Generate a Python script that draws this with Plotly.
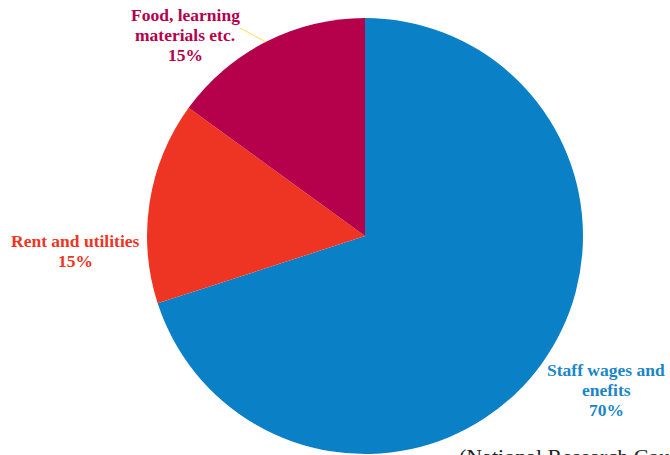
import plotly.graph_objects as go

W, H = 670, 455
label_lines = [["Staff wages and", "enefits"], ["Rent and utilities"], ["Food, learning", "materials etc."]]
values = [70, 15, 15]
pcts = ["70%", "15%", "15%"]
slice_colors = ["#0A80C6", "#EE3524", "#B5004B"]
text_colors = ["#1A86C8", "#EE3524", "#B5004B"]
label_top = [(606, 370), (75, 241), (185, 15)]  # pixel center of first line
line_gap = 20

cx, cy, r = 365, 236, 218

fig = go.Figure(go.Pie(
    labels=[" ".join(l) for l in label_lines],
    values=values,
    sort=False,
    direction="clockwise",
    rotation=0,
    marker=dict(colors=slice_colors, line=dict(width=0)),
    textinfo="none",
    hoverinfo="label+percent",
    showlegend=False,
    domain=dict(x=[(cx - r) / W, (cx + r) / W], y=[1 - (cy + r) / H, 1 - (cy - r) / H]),
))

for lines, p, col, (px, py) in zip(label_lines, pcts, text_colors, label_top):
    for i, t in enumerate(lines + [p]):
        fig.add_annotation(
            x=px / W, y=1 - (py + i * line_gap) / H, xref="paper", yref="paper",
            text=f"<b>{t}</b>", showarrow=False,
            xanchor="center", yanchor="middle", align="center",
            font=dict(family="Liberation Serif", size=17.5, color=col),
        )

fig.add_shape(type="line", xref="paper", yref="paper",
              x0=240 / W, y0=1 - 28 / H, x1=266 / W, y1=1 - 42 / H,
              line=dict(color="#F2E550", width=1))

fig.add_annotation(
    x=457 / W, y=1 - 442 / H, xref="paper", yref="paper",
    text="(National Research Council", showarrow=False,
    xanchor="left", yanchor="top",
    font=dict(family="Liberation Serif", size=22, color="#222222"),
)

fig.update_layout(
    width=W, height=H,
    margin=dict(l=0, r=0, t=0, b=0),
    paper_bgcolor="white", plot_bgcolor="white",
)

fig.write_html("out.html", config={"displayModeBar": False},
               post_script="document.body.style.margin='0';document.body.style.overflow='hidden';")
